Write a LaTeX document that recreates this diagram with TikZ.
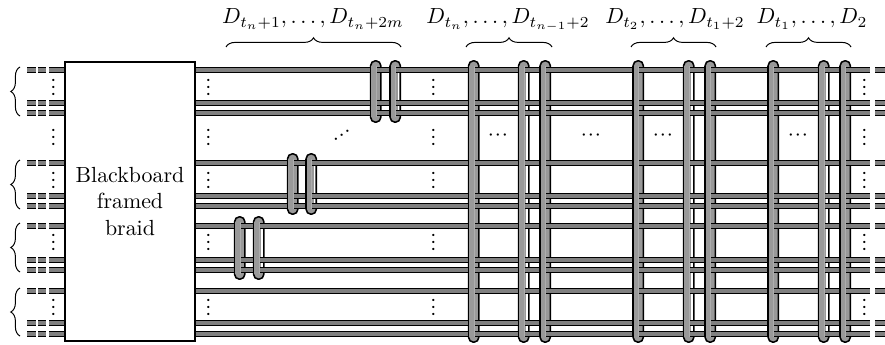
\documentclass[tikz,border=0pt]{standalone}
\usepackage{amsmath,amssymb}
\usepackage{xcolor}
\usetikzlibrary{positioning,calc,decorations.pathreplacing}

\definecolor{bandgray}{gray}{0.5}
\definecolor{ringgray}{gray}{0.6}

\newcommand{\tightdots}{$\mathord{\cdot}\mkern0.8mu\mathord{\cdot}\mkern0.8mu\mathord{\cdot}$}

\tikzset{
  bandout/.style={line width=3.15pt, black},
  bandin/.style={line width=1.85pt, bandgray},
  endout/.style={bandout, dash pattern=on 4.34pt off 0.69pt on 3.43pt off 1.6pt},
  endin/.style={bandin, dash pattern=on 4.34pt off 0.69pt on 3.43pt off 1.6pt},
  ringback/.style={draw=black, line width=0.7pt, fill=ringgray, rounded corners=2.2pt},
  dotsnode/.style={inner sep=0pt},
  toplabel/.style={inner sep=0pt, anchor=base},
  bracetop/.style={decorate, decoration={brace, amplitude=4.2pt}, line width=0.45pt},
}

\begin{document}
\begin{tikzpicture}[x=0.457pt, y=-0.457pt]
  \useasboundingbox (0,0) rectangle (885,344);

  % back of the rings
  \foreach \rx/\rt/\rb/\rs in {
      370/60/123/0, 389.5/60/123/1,
      287/153/215/0, 305.5/153/215/1,
      234/216/280/0, 253/216/280/1,
      468/60/343/0, 518/60/343/1, 539.5/60/343/0,
      632.5/60/343/0, 683/60/343/1, 704.5/60/343/0,
      767.5/60/343/0, 818/60/343/1, 839.5/60/343/0} {
    \draw[ringback] (\rx+0.6,\rt+0.8) rectangle (\rx+10.8,\rb-0.8);
    \ifnum\rs=1
      \draw[white, line width=0.5pt] (\rx+9,\rt+7) -- (\rx+9,\rb-7);
    \fi
  }

  % strands
  \foreach \sy in {70,103,113,163,196,206,226,260,270,291,323,334} {
    \coordinate (sl\sy) at (49,\sy);
    \coordinate (sr\sy) at (870,\sy);
    \coordinate (el\sy) at (27,\sy);
    \coordinate (ea\sy) at (875,\sy);
    \coordinate (eb\sy) at (885,\sy);
    \draw[bandout] (sl\sy) -- (sr\sy);
    \draw[bandin] (sl\sy) -- (sr\sy);
    \draw[endout] (el\sy) -- (sl\sy);
    \draw[endin] (el\sy) -- (sl\sy);
    \draw[bandout] (ea\sy) -- (eb\sy);
    \draw[bandin] (ea\sy) -- (eb\sy);
  }

  % front legs of the rings
  \foreach \rx/\rt/\rb in {
      370/60/123, 389.5/60/123,
      287/153/215, 305.5/153/215,
      234/216/280, 253/216/280,
      468/60/343, 518/60/343, 539.5/60/343,
      632.5/60/343, 683/60/343, 704.5/60/343,
      767.5/60/343, 818/60/343, 839.5/60/343} {
    \fill[ringgray] (\rx+1,\rt+6) rectangle (\rx+6.4,\rb-6);
    \draw[black, line width=0.7pt] (\rx+0.6,\rt+6) -- (\rx+0.6,\rb-6);
    \draw[ringgray!80, line width=0.4pt] (\rx+6.4,\rt+6) -- (\rx+6.4,\rb-6);
  }

  \node[draw, fill=white, line width=0.7pt, minimum width=59.4pt, minimum height=127.5pt,
        inner sep=0pt, align=center] (braid) at (130,201.5)
      {Blackboard\\framed\\braid};

  % dots
  \foreach \dx in {54,209,434,865} {
    \foreach \dy in {87,137,180,242,307} {
      \node[dotsnode, rotate=90] (v\dx-\dy) at (\dx,\dy) {\tightdots};
    }
  }
  \foreach \dx in {498,591,663,798} {
    \node[dotsnode] (c\dx) at (\dx,136) {\tightdots};
  }
  \node[dotsnode, rotate=35] (diag) at (342,136) {\tightdots};

  % labels and braces on top
  \node[toplabel] (lab1) at (313,24) {$D_{t_n+1},\dots,D_{t_n+2m}$};
  \node[toplabel] (lab2) at (508,24) {$D_{t_n},\dots,D_{t_{n-1}+2}$};
  \node[toplabel] (lab3) at (675,24) {$D_{t_2},\dots,D_{t_1+2}$};
  \node[toplabel] (lab4) at (812,24) {$D_{t_1},\dots,D_2$};

  \foreach \ba/\bb/\bn in {226/401/a, 466/552/b, 631/716/c, 766/851/d} {
    \coordinate (bl\bn) at (\ba,47);
    \coordinate (br\bn) at (\bb,47);
    \draw[bracetop] (bl\bn) -- (br\bn);
  }
  \foreach \ba/\bb/\bn in {67/116/e, 160/209/f, 223/272/g, 288/336/h} {
    \coordinate (bu\bn) at (20,\ba);
    \coordinate (bd\bn) at (20,\bb);
    \draw[bracetop] (bd\bn) -- (bu\bn);
  }
\end{tikzpicture}
\end{document}
